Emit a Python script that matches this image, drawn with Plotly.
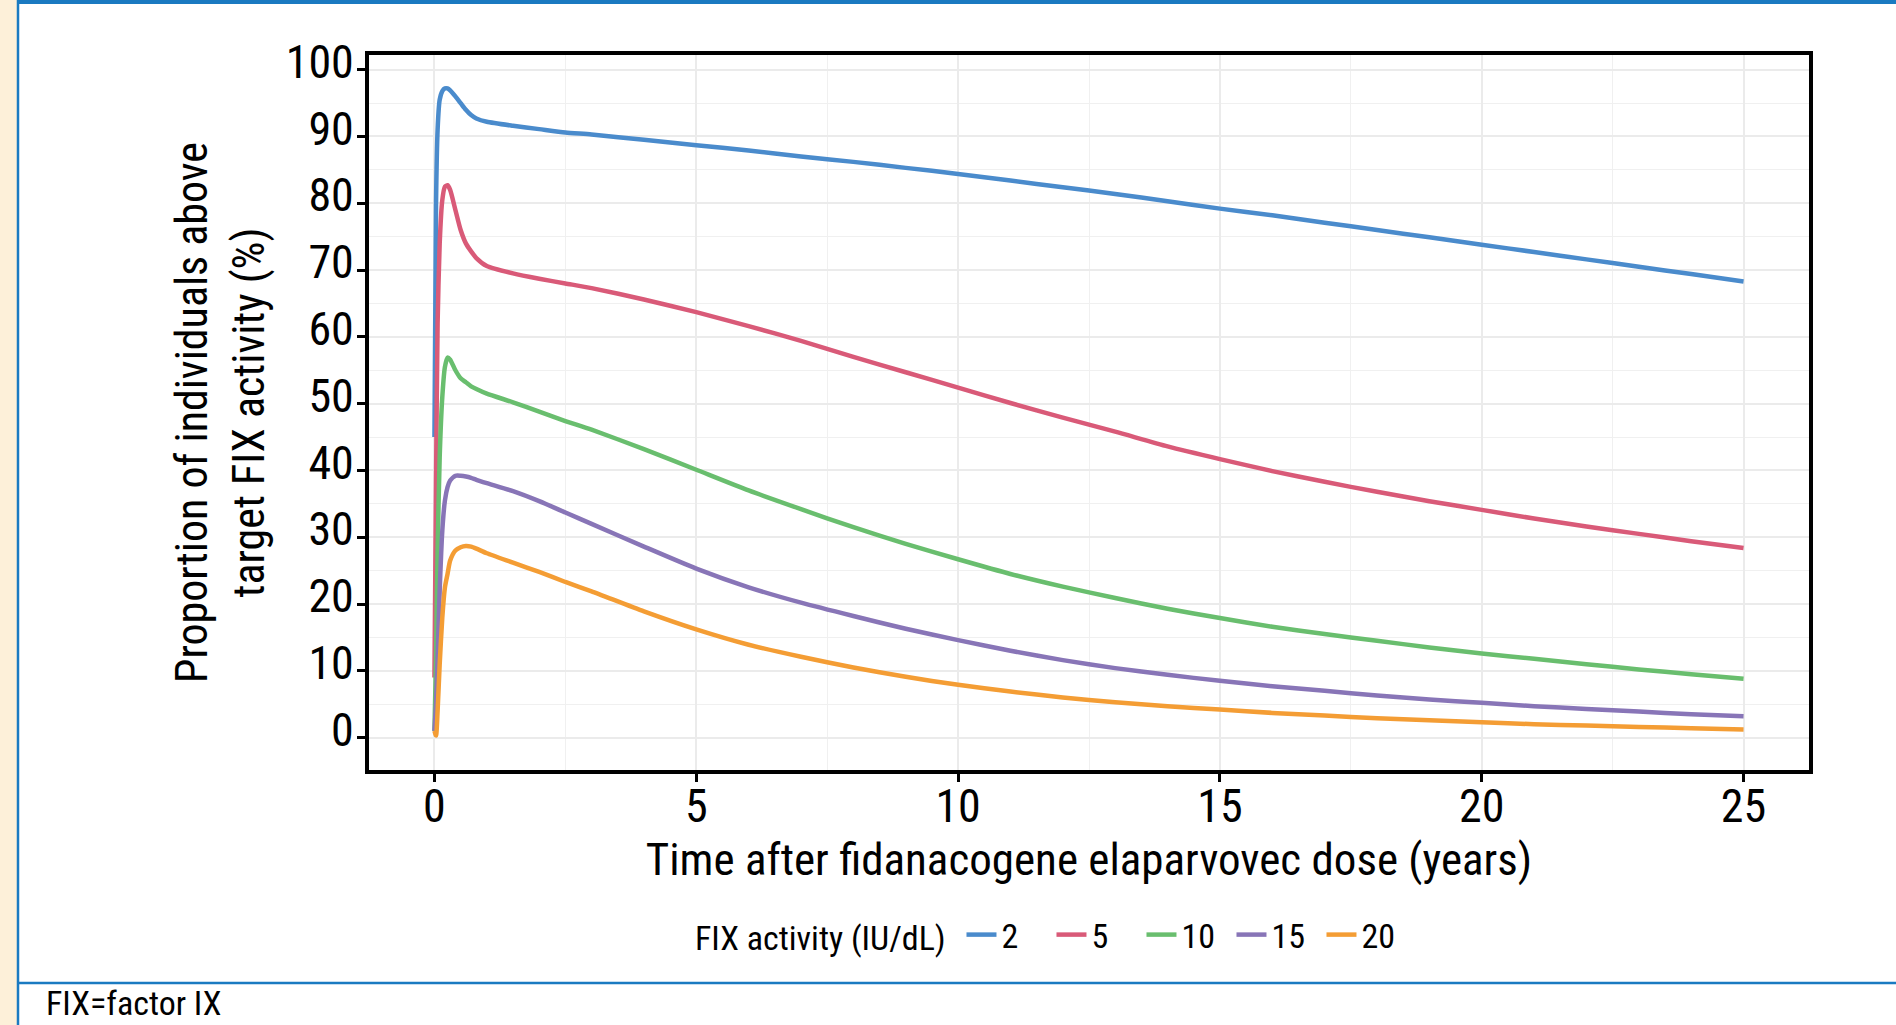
import plotly.graph_objects as go

# ---------------- data ----------------
time_years = [0, 0.03, 0.06, 0.1, 0.15, 0.2, 0.25, 0.3, 0.4, 0.5, 0.6, 0.7, 0.8, 1.0,
              1.5, 2, 2.5, 3, 4, 5, 6, 7, 8, 9, 10, 11, 12, 13, 14, 15, 16, 17, 18,
              19, 20, 21, 22, 23, 24, 25]

fix_2 = [45, 80, 91, 95.5, 96.8, 97.2, 97.2, 96.9, 96.0, 95.0, 94.0, 93.2, 92.7, 92.2,
         91.6, 91.1, 90.6, 90.3, 89.5, 88.7, 87.9, 87.0, 86.2, 85.3, 84.4, 83.4, 82.4,
         81.4, 80.3, 79.2, 78.2, 77.1, 76.0, 74.9, 73.8, 72.7, 71.6, 70.5, 69.4, 68.3]

fix_5 = [9, 38, 62, 74, 80.5, 82.5, 82.7, 82.0, 79.0, 76.0, 74.0, 72.8, 71.8, 70.6,
         69.5, 68.7, 68.0, 67.3, 65.6, 63.7, 61.6, 59.4, 57.0, 54.7, 52.4, 50.1, 47.9,
         45.8, 43.6, 41.7, 39.9, 38.3, 36.8, 35.4, 34.1, 32.8, 31.6, 30.5, 29.4, 28.4]

fix_10 = [1, 12, 28, 42, 51, 55.5, 56.9, 56.6, 55.0, 53.8, 53.2, 52.6, 52.2, 51.5,
          50.2, 48.8, 47.4, 46.1, 43.2, 40.1, 37.0, 34.2, 31.5, 29.0, 26.7, 24.5, 22.6,
          20.9, 19.3, 17.9, 16.6, 15.5, 14.5, 13.5, 12.6, 11.8, 11.0, 10.2, 9.5, 8.8]

fix_15 = [1, 5, 12, 22, 31, 35.5, 37.5, 38.5, 39.2, 39.2, 39.1, 38.9, 38.6, 38.1,
          36.9, 35.4, 33.7, 32.0, 28.6, 25.3, 22.5, 20.2, 18.2, 16.3, 14.6, 13.0, 11.6,
          10.4, 9.4, 8.5, 7.7, 7.0, 6.3, 5.7, 5.2, 4.7, 4.3, 3.9, 3.5, 3.2]

fix_20 = [1, 0.3, 4, 11, 18, 22.5, 24.5, 26.5, 28.0, 28.5, 28.7, 28.6, 28.3, 27.6,
          26.2, 24.8, 23.3, 21.9, 18.9, 16.2, 13.9, 12.1, 10.5, 9.1, 7.9, 6.9, 6.0,
          5.3, 4.7, 4.2, 3.7, 3.3, 2.9, 2.6, 2.3, 2.0, 1.8, 1.6, 1.4, 1.2]

series_names = ["2", "5", "10", "15", "20"]
series_values = [fix_2, fix_5, fix_10, fix_15, fix_20]
series_colors = ["#4A8BCC", "#D95A78", "#69BE6E", "#8875B7", "#F49D34"]

x_ticks = [0, 5, 10, 15, 20, 25]
y_ticks = [0, 10, 20, 30, 40, 50, 60, 70, 80, 90, 100]

FONT = "Liberation Sans Narrow, Arial Narrow, Roboto Condensed, sans-serif"

# ---------------- figure ----------------
W, H = 1896, 1025
L, R, T, B = 369, 87, 55, 255
PW, PH = W - L - R, H - T - B


def px(xp):
    return (xp - L) / PW


def py(yp):
    return (H - B - yp) / PH


fig = go.Figure()
for name, vals, col in zip(series_names, series_values, series_colors):
    fig.add_trace(go.Scatter(x=time_years, y=vals, mode="lines", name=name,
                             line=dict(color=col, width=4.5, shape="spline", smoothing=0.6)))

shapes = [
    # beige strip at left
    dict(type="rect", xref="paper", yref="paper", x0=px(0), x1=px(17), y0=py(H), y1=py(0),
         fillcolor="#FDF0D9", line=dict(width=0), layer="below"),
    # blue frame lines
    dict(type="line", xref="paper", yref="paper", x0=px(18), x1=px(18), y0=py(H), y1=py(0),
         line=dict(color="#1A7AC1", width=2.5)),
    dict(type="rect", xref="paper", yref="paper", x0=px(17), x1=px(W), y0=py(4), y1=py(0),
         fillcolor="#1A7AC1", line=dict(width=0)),
    dict(type="line", xref="paper", yref="paper", x0=px(17), x1=px(W), y0=py(983), y1=py(983),
         line=dict(color="#1A7AC1", width=2.5)),
]

fig.update_layout(
    width=W, height=H,
    margin=dict(l=L, r=R, t=T, b=B, pad=0),
    paper_bgcolor="white", plot_bgcolor="white",
    font=dict(family=FONT, color="black"),
    shapes=shapes,
    showlegend=True,
    legend=dict(orientation="h", x=px(693), xanchor="left", y=py(935), yanchor="middle",
                title=dict(text="FIX activity (IU/dL) ", side="left", font=dict(size=34)),
                font=dict(size=34), itemwidth=30, tracegroupgap=0,
                entrywidth=45, entrywidthmode="pixels",
                bgcolor="rgba(0,0,0,0)"),
    annotations=[dict(text="FIX=factor IX", xref="paper", yref="paper", x=px(44), y=py(1025),
                      xanchor="left", yanchor="bottom", showarrow=False,
                      font=dict(size=34, family=FONT, color="black"))],
)

fig.update_xaxes(
    range=[-1.25, 26.25], tickvals=x_ticks, ticktext=[str(v) for v in x_ticks],
    showline=True, linecolor="black", linewidth=4, mirror=True,
    ticks="outside", ticklen=8, tickwidth=3, tickcolor="black",
    tickfont=dict(size=46, family=FONT), ticklabelstandoff=-15,
    showgrid=True, gridcolor="#EBEBEB", gridwidth=1.5, zeroline=False,
    minor=dict(dtick=2.5, tick0=0, showgrid=True, gridcolor="#F0F0F0", gridwidth=1),
    title=dict(text="Time after fidanacogene elaparvovec dose (years)",
               font=dict(size=45, family=FONT), standoff=6),
)
fig.update_yaxes(
    range=[-4.85, 102.2], tickvals=y_ticks, ticktext=[str(v) for v in y_ticks],
    showline=True, linecolor="black", linewidth=4, mirror=True,
    ticks="outside", ticklen=8, tickwidth=3, tickcolor="black",
    tickfont=dict(size=46, family=FONT), ticklabelstandoff=-6, ticklabelshift=-8,
    showgrid=True, gridcolor="#EBEBEB", gridwidth=1.5, zeroline=False,
    minor=dict(dtick=5, tick0=0, showgrid=True, gridcolor="#F0F0F0", gridwidth=1),
    title=dict(text="Proportion of individuals above<br>target FIX activity (%)",
               font=dict(size=44, family=FONT), standoff=8),
)

fig.write_html("out.html")
